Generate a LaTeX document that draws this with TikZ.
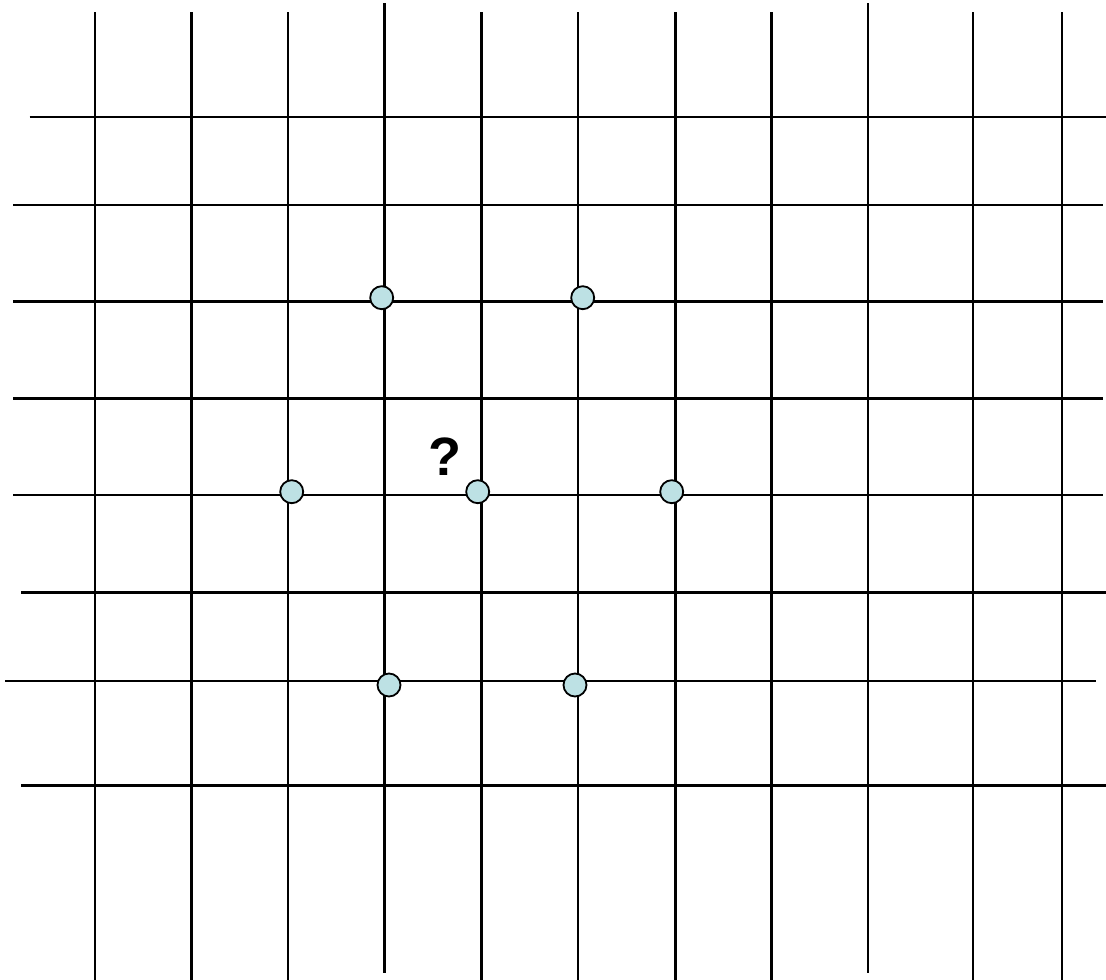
\documentclass[tikz,border=0pt]{standalone}
\usepackage{fontspec}
\setmainfont{Liberation Sans}
\usepackage{tikz}
\usepackage{xcolor}
\definecolor{dotcyan}{RGB}{189, 225, 228}

\begin{document}
\begin{tikzpicture}[x=1pt, y=-1pt,
    gridline/.style={line width=2.2pt, black},
    gridpoint/.style={circle, draw, line width=1.8pt, fill=dotcyan, minimum size=23pt, inner sep=0pt}]
    \useasboundingbox (0,0) rectangle (1106,980);

    % vertical lines: x / top / bottom
    \foreach \x/\top/\bot in {95/12/980, 191.5/12/980, 288/12/980, 384.5/3/973,
                              481.5/12/980, 578/12/980, 675.5/12/980, 771.5/12/980,
                              868/3/973, 973/12/980, 1062/12/980}
      \draw[gridline] (\x,\top) -- (\x,\bot);

    % horizontal lines: y / left / right
    \foreach \y/\lft/\rgt in {116.6/29.5/1106, 204.8/13.3/1103, 301.5/13.3/1103,
                              398.5/13.3/1103, 495/13.3/1103, 592.5/21.3/1106,
                              681/5.3/1096, 785.5/21.3/1106}
      \draw[gridline] (\lft,\y) -- (\rgt,\y);

    \node[gridpoint] (p1) at (381.7,297.7) {};
    \node[gridpoint] (p2) at (582.7,297.7) {};
    \node[gridpoint] (p3) at (291.7,491.7) {};
    \node[gridpoint] (p4) at (477.7,491.7) {};
    \node[gridpoint] (p5) at (671.7,491.7) {};
    \node[gridpoint] (p6) at (389,685) {};
    \node[gridpoint] (p7) at (575,685) {};

    \node[font=\fontsize{54}{60}\selectfont\bfseries, inner sep=0pt] (query) at (445,457) {?};
  \end{tikzpicture}
\end{document}
